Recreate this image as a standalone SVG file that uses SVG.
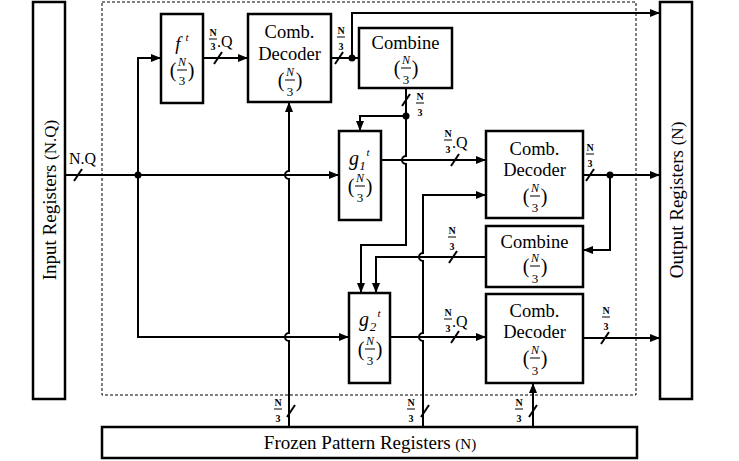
<svg xmlns="http://www.w3.org/2000/svg" width="739" height="461" viewBox="0 0 739 461" font-family="Liberation Serif, Times New Roman, serif">
<defs>
<marker id="ah" viewBox="0 0 10 8" refX="10" refY="4" markerWidth="10" markerHeight="8" markerUnits="userSpaceOnUse" orient="auto"><path d="M0,0 L10,4 L0,8 Z" fill="#000"/></marker>
<style>
.box{fill:#fff;stroke:#000;stroke-width:2.5}
.dash{fill:none;stroke:#000;stroke-width:1;stroke-dasharray:3,2}
.ln{fill:none;stroke:#000;stroke-width:2}
.ar{fill:none;stroke:#000;stroke-width:2;marker-end:url(#ah)}
.sl{stroke:#000;stroke-width:2}
.fb{stroke:#000;stroke-width:1}
.big{font-size:18.5px;text-anchor:middle}
.reg{font-size:19px}
.it{font-style:italic}
.fn{font-size:12px;font-style:italic;text-anchor:middle}
.f3{font-size:13px;text-anchor:middle}
.par{font-size:20px;text-anchor:middle}
.sm{font-size:10px;font-weight:bold;text-anchor:middle}
.q{font-size:16px}
</style>
</defs>
<rect width="739" height="461" fill="#fff"/>
<rect class="dash" x="102" y="2" width="534" height="393"/>

<g id="input-registers">
<rect class="box" x="33" y="2" width="32" height="397"/>
<text class="reg" transform="translate(56,200) rotate(-90)" text-anchor="middle">Input Registers <tspan font-size="17">(N.Q)</tspan></text>
</g>
<g id="output-registers">
<rect class="box" x="660" y="2" width="32" height="397"/>
<text class="reg" transform="translate(683,200) rotate(-90)" text-anchor="middle">Output Registers <tspan font-size="17">(N)</tspan></text>
</g>
<g id="frozen-registers">
<rect class="box" x="102" y="427" width="535" height="31"/>
<text class="reg" x="370" y="449" text-anchor="middle">Frozen Pattern Registers <tspan font-size="15">(N)</tspan></text>
</g>

<g id="f">
<rect class="box" x="161" y="14" width="42" height="89"/>
<text class="it" x="178" y="50" font-size="19" text-anchor="middle">f</text>
<text class="it" x="187" y="41" font-size="11" text-anchor="middle">t</text>
<text class="par" x="173" y="77">(</text><text class="par" x="191" y="77">)</text>
<text class="fn" x="182" y="66">N</text><line class="fb" x1="177" y1="70" x2="187" y2="70"/><text class="f3" x="182" y="85">3</text>
</g>

<g id="comb-decoder-1">
<rect class="box" x="248" y="14" width="83" height="88"/>
<text class="big" x="289.5" y="38">Comb.</text>
<text class="big" x="289.5" y="60">Decoder</text>
<text class="par" x="281" y="87">(</text><text class="par" x="299" y="87">)</text>
<text class="fn" x="290" y="76">N</text><line class="fb" x1="285" y1="80" x2="295" y2="80"/><text class="f3" x="290" y="96">3</text>
</g>

<g id="combine-1">
<rect class="box" x="359" y="28" width="93" height="60"/>
<text class="big" x="405.5" y="49">Combine</text>
<text class="par" x="397" y="75">(</text><text class="par" x="415" y="75">)</text>
<text class="fn" x="406" y="64">N</text><line class="fb" x1="401" y1="68" x2="411" y2="68"/><text class="f3" x="406" y="84">3</text>
</g>

<g id="g1">
<rect class="box" x="339" y="131" width="42" height="89"/>
<text class="it" x="354" y="165" font-size="20" text-anchor="middle">g</text>
<text class="it" x="362.5" y="170" font-size="13" text-anchor="middle">1</text>
<text class="it" x="368" y="156" font-size="11" text-anchor="middle">t</text>
<text class="par" x="351" y="193">(</text><text class="par" x="369" y="193">)</text>
<text class="fn" x="360" y="182">N</text><line class="fb" x1="355" y1="186" x2="365" y2="186"/><text class="f3" x="360" y="202">3</text>
</g>

<g id="g2">
<rect class="box" x="349" y="293" width="41" height="90"/>
<text class="it" x="364" y="326" font-size="20" text-anchor="middle">g</text>
<text class="it" x="373" y="331" font-size="13" text-anchor="middle">2</text>
<text class="it" x="379" y="317" font-size="11" text-anchor="middle">t</text>
<text class="par" x="361" y="356">(</text><text class="par" x="379" y="356">)</text>
<text class="fn" x="370" y="345">N</text><line class="fb" x1="365" y1="349" x2="375" y2="349"/><text class="f3" x="370" y="365">3</text>
</g>

<g id="comb-decoder-2">
<rect class="box" x="486" y="131" width="97" height="87"/>
<text class="big" x="534.5" y="155">Comb.</text>
<text class="big" x="534.5" y="176">Decoder</text>
<text class="par" x="526" y="203">(</text><text class="par" x="544" y="203">)</text>
<text class="fn" x="535" y="192">N</text><line class="fb" x1="530" y1="196" x2="540" y2="196"/><text class="f3" x="535" y="212">3</text>
</g>

<g id="combine-2">
<rect class="box" x="486" y="226" width="97" height="61"/>
<text class="big" x="534.5" y="248">Combine</text>
<text class="par" x="526" y="273">(</text><text class="par" x="544" y="273">)</text>
<text class="fn" x="535" y="262">N</text><line class="fb" x1="530" y1="266" x2="540" y2="266"/><text class="f3" x="535" y="283">3</text>
</g>

<g id="comb-decoder-3">
<rect class="box" x="486" y="294" width="97" height="89"/>
<text class="big" x="534.5" y="317">Comb.</text>
<text class="big" x="534.5" y="338">Decoder</text>
<text class="par" x="526" y="365">(</text><text class="par" x="544" y="365">)</text>
<text class="fn" x="535" y="354">N</text><line class="fb" x1="530" y1="358" x2="540" y2="358"/><text class="f3" x="535" y="375">3</text>
</g>

<g id="connectors">
<path class="ar" d="M65,175 H339"/>
<path class="ar" d="M138,175 V58 H161"/>
<path class="ar" d="M138,175 V337 H349"/>
<path class="ar" d="M203,58 H248"/>
<path class="ln" d="M331,58 H359"/>
<path class="ar" d="M352,58 V13 H660"/>
<path class="ln" d="M406,88 V116"/>
<path class="ar" d="M406,116 H360 V131"/>
<path class="ar" d="M406,116 V156 A4,4 0 0 0 406,164 V245 H361 V293"/>
<path class="ar" d="M381,160 H486"/>
<path class="ar" d="M289,427 V341 A4,4 0 0 1 289,333 V179 A4,4 0 0 1 289,171 V102"/>
<path class="ar" d="M423,427 V341 A4,4 0 0 1 423,333 V261 A4,4 0 0 1 423,253 V195 H486"/>
<path class="ar" d="M486,257 H376 V293"/>
<path class="ar" d="M390,337 H486"/>
<path class="ar" d="M583,175 H660"/>
<path class="ar" d="M610,175 V250 H583"/>
<path class="ar" d="M583,338 H660"/>
<path class="ar" d="M533,427 V383"/>
<circle cx="138" cy="175" r="3.5"/>
<circle cx="352" cy="58" r="3.5"/>
<circle cx="406" cy="116" r="3.5"/>
<circle cx="610" cy="175" r="3.5"/>
<line class="sl" x1="74" y1="181" x2="82" y2="169"/>
<line class="sl" x1="214" y1="64" x2="222" y2="52"/>
<line class="sl" x1="335" y1="64" x2="343" y2="52"/>
<line class="sl" x1="402" y1="106" x2="410" y2="94"/>
<line class="sl" x1="451" y1="166" x2="459" y2="154"/>
<line class="sl" x1="449" y1="263" x2="457" y2="251"/>
<line class="sl" x1="451" y1="343" x2="459" y2="331"/>
<line class="sl" x1="586" y1="181" x2="594" y2="169"/>
<line class="sl" x1="601" y1="344" x2="609" y2="332"/>
<line class="sl" x1="287" y1="417" x2="295" y2="405"/>
<line class="sl" x1="421" y1="417" x2="429" y2="405"/>
<line class="sl" x1="529" y1="417" x2="537" y2="405"/>
</g>

<g id="labels">
<text class="q" x="69" y="164">N.Q</text>
<text class="sm" x="213" y="36">N</text><line class="fb" x1="209" y1="39" x2="217" y2="39"/><text class="sm" x="213" y="50">3</text><text class="q" x="217" y="47">.Q</text>
<text class="sm" x="341" y="34">N</text><line class="fb" x1="337" y1="37" x2="345" y2="37"/><text class="sm" x="341" y="50">3</text>
<text class="sm" x="420" y="100">N</text><line class="fb" x1="416" y1="103" x2="424" y2="103"/><text class="sm" x="420" y="116">3</text>
<text class="sm" x="448" y="137">N</text><line class="fb" x1="444" y1="140" x2="452" y2="140"/><text class="sm" x="448" y="153">3</text><text class="q" x="452" y="148">.Q</text>
<text class="sm" x="452" y="234">N</text><line class="fb" x1="448" y1="237" x2="456" y2="237"/><text class="sm" x="452" y="250">3</text>
<text class="sm" x="448" y="316">N</text><line class="fb" x1="444" y1="319" x2="452" y2="319"/><text class="sm" x="448" y="332">3</text><text class="q" x="452" y="327">.Q</text>
<text class="sm" x="590" y="151">N</text><line class="fb" x1="586" y1="154" x2="594" y2="154"/><text class="sm" x="590" y="167">3</text>
<text class="sm" x="606" y="314">N</text><line class="fb" x1="602" y1="317" x2="610" y2="317"/><text class="sm" x="606" y="330">3</text>
<text class="sm" x="278" y="406">N</text><line class="fb" x1="274" y1="409" x2="282" y2="409"/><text class="sm" x="278" y="422">3</text>
<text class="sm" x="411" y="406">N</text><line class="fb" x1="407" y1="409" x2="415" y2="409"/><text class="sm" x="411" y="422">3</text>
<text class="sm" x="519" y="406">N</text><line class="fb" x1="515" y1="409" x2="523" y2="409"/><text class="sm" x="519" y="422">3</text>
</g>
</svg>
